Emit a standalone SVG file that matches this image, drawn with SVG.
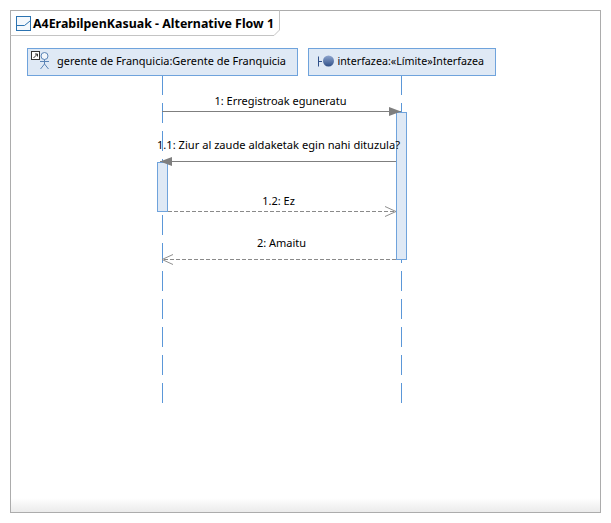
<svg xmlns="http://www.w3.org/2000/svg" width="611" height="523" viewBox="0 0 611 523">
<defs>
<linearGradient id="fade" x1="0" y1="0" x2="0" y2="1"><stop offset="0" stop-color="#ffffff"/><stop offset="1" stop-color="#ebebeb"/></linearGradient>
<linearGradient id="ball" x1="0" y1="0" x2="0" y2="1"><stop offset="0" stop-color="#8fa6cf"/><stop offset="1" stop-color="#2f4f88"/></linearGradient>
<marker id="solid" markerUnits="userSpaceOnUse" markerWidth="13" markerHeight="10" refX="12" refY="5" orient="auto"><path d="M0 0.5L12 5L0 9.5Z" fill="#7f7f7f"/></marker>
<marker id="open" markerUnits="userSpaceOnUse" markerWidth="13" markerHeight="12" refX="12" refY="6" orient="auto"><path d="M1 1L12 6L1 11" fill="none" stroke="#8f8f8f"/></marker>
</defs>
<style>
text{font-family:"Noto Sans","Open Sans","Liberation Sans",sans-serif;font-size:11px;fill:#000}
.box{fill:#dfe9f5;stroke:#6fa3dc}
.life{stroke:#5b97d8;fill:none;stroke-dasharray:20 8}
.msg{stroke:#7f7f7f;fill:none}
.dash{stroke:#8a8a8a;fill:none;stroke-dasharray:4 2}
.lbl{text-anchor:middle}
</style>
<rect x="0" y="0" width="611" height="523" fill="#ffffff"/>
<g id="frame">
<rect x="10.500" y="10.500" width="590" height="502" fill="#ffffff" stroke="#acacac"/>
<rect x="10" y="498" width="590" height="14" fill="url(#fade)"/>
<path d="M10.500 10.500H600.500V512.500H10.500Z" fill="none" stroke="#acacac"/>
<path d="M10.500 35.500H274L279.500 30V10.500" fill="none" stroke="#c4c4c4"/>
<rect x="16.500" y="16.500" width="14" height="14" fill="#f4f8fc" stroke="#2b73b1"/>
<path d="M17 25.500H24.500L30 21" fill="none" stroke="#2b73b1"/>
<text x="33" y="27.500" textLength="241" lengthAdjust="spacingAndGlyphs" style="font-size:12.500px;font-weight:700">A4ErabilpenKasuak - Alternative Flow 1</text>
</g>
<g id="lifeline-gerente">
<path class="life" d="M162.500 75V403"/>
<rect class="box" x="27.500" y="48.500" width="270" height="27"/>
<rect x="31.500" y="51.500" width="8" height="8" fill="#fff" stroke="#333"/>
<path d="M33.500 58L37.500 54M35 54H37.500V56.500" fill="none" stroke="#333"/>
<circle cx="44.500" cy="56" r="3.500" fill="#f2f6fb" stroke="#5b84b5"/>
<path d="M44.500 59.500V64M40 61.500H49M44.500 64L40.500 69M44.500 64L48.500 69" fill="none" stroke="#5b84b5"/>
<text x="57" y="65" textLength="229" lengthAdjust="spacingAndGlyphs">gerente de Franquicia:Gerente de Franquicia</text>
<rect class="box" x="157.500" y="162.500" width="10" height="49"/>
</g>
<g id="lifeline-interfazea">
<path class="life" d="M401.500 75V403"/>
<rect class="box" x="308.500" y="48.500" width="187" height="27"/>
<path d="M318.500 56.500V66.500M318.500 61.500H322" fill="none" stroke="#2f4f88"/>
<circle cx="328.500" cy="61" r="5.500" fill="url(#ball)"/>
<text x="337.500" y="65" textLength="146.500" lengthAdjust="spacingAndGlyphs">interfazea:«Límite»Interfazea</text>
<rect class="box" x="396.500" y="112.500" width="10" height="147"/>
</g>
<g id="connectors">
<path class="msg" d="M162 111.500H401" marker-end="url(#solid)"/>
<path class="msg" d="M396 161.500H160" marker-end="url(#solid)"/>
<path class="dash" d="M168 211.500H396" marker-end="url(#open)"/>
<path class="dash" d="M396 259.500H162" marker-end="url(#open)"/>
<text class="lbl" x="280.500" y="105" textLength="132" lengthAdjust="spacingAndGlyphs">1: Erregistroak eguneratu</text>
<text class="lbl" x="278.500" y="149" textLength="243" lengthAdjust="spacingAndGlyphs">1.1: Ziur al zaude aldaketak egin nahi dituzula?</text>
<text class="lbl" x="278.500" y="205">1.2: Ez</text>
<text class="lbl" x="281.500" y="247">2: Amaitu</text>
</g>
</svg>
